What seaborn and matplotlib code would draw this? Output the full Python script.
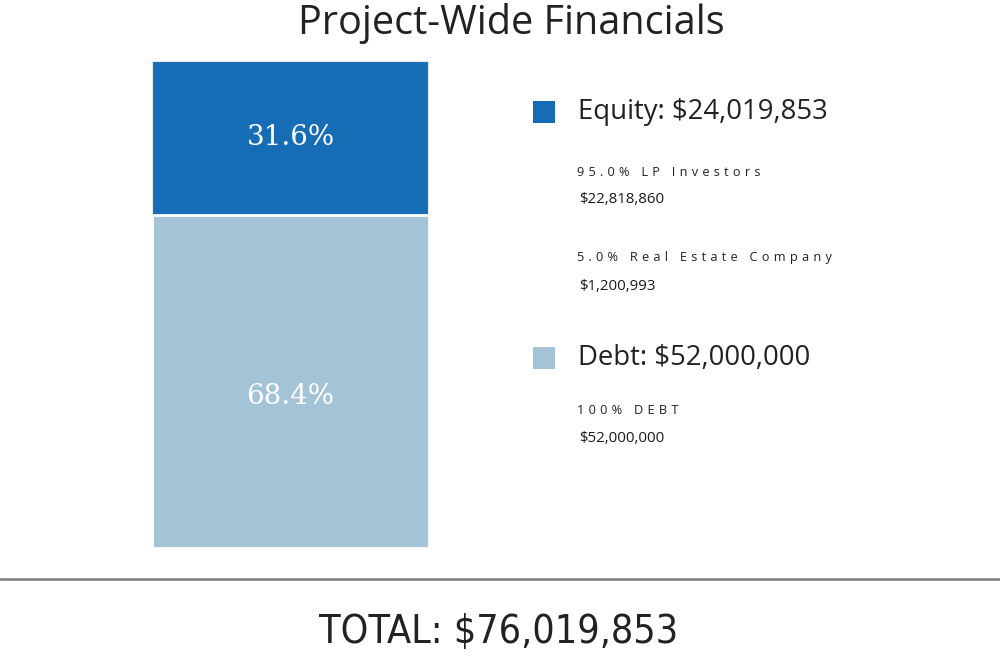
import matplotlib
matplotlib.use("Agg")
import matplotlib.pyplot as plt
import pandas as pd
import seaborn as sns

# data
segments = ["Equity", "Debt"]
amounts = [24019853, 52000000]
seg_colors = ["#176cb6", "#a5c3d7"]
shares = ["31.6%", "68.4%"]
sub_labels = [["95.0% LP Investors", "5.0% Real Estate Company"], ["100% DEBT"]]
sub_amounts = [[22818860, 1200993], [52000000]]
total = 76019853

W, H = 1000, 658


def fy(py):
    # pixel row -> figure fraction
    return 1 - py / H


def tracked(s):
    # wide letter spacing, as in the reference
    return "\u2009\u2009".join(s)


def main():
    sns.set_theme(style="white")
    plt.rcParams["font.family"] = ["Open Sans", "DejaVu Sans"]

    fig = plt.figure(figsize=(W / 100, H / 100), dpi=100)
    fig.patch.set_facecolor("white")

    # stacked bar: full bar in equity colour, debt drawn over the bottom part
    pct_total = 100.0
    pct_debt = amounts[1] / total * 100
    ax = fig.add_axes([152 / W, fy(548), 277 / W, 487 / H])
    df = pd.DataFrame({"x": ["all", "all"], "pct": [pct_total, pct_debt],
                       "seg": segments})
    sns.barplot(data=df.iloc[[0]], x="x", y="pct", color=seg_colors[0],
                width=1.0, edgecolor="#e4e8ec", linewidth=1.5, ax=ax,
                saturation=1)
    sns.barplot(data=df.iloc[[1]], x="x", y="pct", color=seg_colors[1],
                width=1.0, edgecolor="white", linewidth=2.0, ax=ax,
                saturation=1)
    ax.set_xlim(-0.5, 0.5)
    ax.set_ylim(0, 100)
    ax.axis("off")

    ax.text(0, pct_debt + (pct_total - pct_debt) / 2, shares[0], ha="center",
            va="center", color="white", fontsize=20, family="DejaVu Serif")
    ax.text(0, pct_debt / 2 - 3, shares[1], ha="center", va="center",
            color="white", fontsize=20, family="DejaVu Serif")

    fig.text(0.511, fy(23), "Project-Wide Financials", ha="center",
             va="center", fontsize=28.5, color="#222222")

    # legend block
    heads = [112, 358]
    subs = [[172, 258], [411]]
    for i, seg in enumerate(segments):
        y = heads[i]
        fig.patches.append(plt.Rectangle((533 / W, fy(y + 11)), 22 / W,
                                         22 / H, transform=fig.transFigure,
                                         facecolor=seg_colors[i],
                                         edgecolor="none"))
        fig.text(578 / W, fy(y), f"{seg}: ${amounts[i]:,}", ha="left",
                 va="center", fontsize=19.8, color="#222222")
        for lab, amt, sy in zip(sub_labels[i], sub_amounts[i], subs[i]):
            fig.text(577 / W, fy(sy), tracked(lab), ha="left", va="center",
                     fontsize=9.2, color="#222222")
            fig.text(579 / W, fy(sy + 28), f"${amt:,}", ha="left",
                     va="center", fontsize=10.8, color="#1a1a1a",
                     fontweight="medium")

    fig.add_artist(plt.Line2D([0, 1], [fy(579), fy(579)], color="#7f7f7f",
                              linewidth=1.8, transform=fig.transFigure))
    fig.text(0.499, fy(632), f"TOTAL: ${total:,}", ha="center", va="center",
             fontsize=28.3, color="#222222", family="DejaVu Sans",
             fontstretch="condensed")

    fig.savefig("out.png", dpi=100, facecolor="white")
    plt.close(fig)


if __name__ == "__main__":
    main()
